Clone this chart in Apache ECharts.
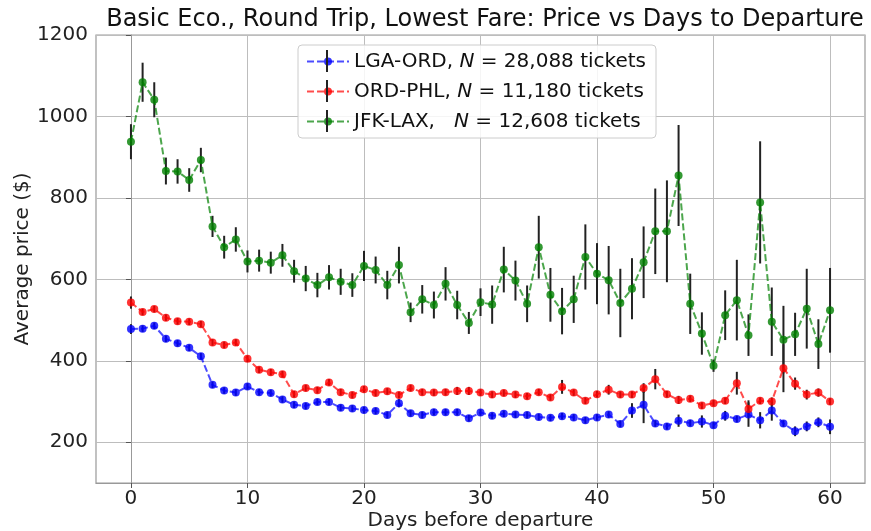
<!DOCTYPE html>
<html>
<head>
<meta charset="utf-8">
<script src="https://cdn.jsdelivr.net/npm/echarts@6/dist/echarts.min.js"></script>
<style>
    html, body { margin: 0; padding: 0; background: #fff; }
    #chart { width: 871px; height: 531px; }
</style>
</head>
<body>
<div id="chart"></div>
<script>
let days = [0, 1, 2, 3, 4, 5, 6, 7, 8, 9, 10, 11, 12, 13, 14, 15, 16, 17, 18, 19, 20,
    21, 22, 23, 24, 25, 26, 27, 28, 29, 30, 31, 32, 33, 34, 35, 36, 37, 38, 39, 40,
    41, 42, 43, 44, 45, 46, 47, 48, 49, 50, 51, 52, 53, 54, 55, 56, 57, 58, 59, 60];

let lgaOrd = [478, 479, 486, 454, 443, 432, 411, 341, 327, 322, 337, 323, 321, 305, 292, 289, 299, 299, 285, 283, 279,
    277, 267, 296, 271, 267, 274, 274, 274, 259, 273, 265, 270, 268, 267, 262, 260, 264, 261, 254, 261,
    268, 245, 278, 292, 246, 239, 253, 247, 251, 242, 265, 257, 268, 254, 278, 246, 227, 239, 249, 238];
let lgaOrdErr = [12, 8, 8, 8, 8, 8, 8, 8, 8, 8, 8, 8, 8, 8, 8, 8, 8, 8, 8, 8, 8,
    8, 8, 10, 8, 8, 8, 8, 8, 8, 8, 8, 8, 8, 8, 8, 8, 8, 8, 8, 8,
    8, 8, 18, 45, 8, 8, 15, 8, 15, 8, 12, 8, 30, 20, 25, 8, 12, 12, 12, 18];

let ordPhl = [543, 520, 527, 506, 497, 496, 490, 445, 439, 445, 405, 378, 372, 367, 318, 333, 328, 347, 323, 316, 330,
    321, 325, 316, 333, 323, 322, 323, 326, 326, 322, 317, 321, 317, 313, 323, 310, 336, 322, 302, 318,
    329, 317, 317, 333, 355, 318, 304, 307, 290, 296, 302, 345, 282, 302, 300, 382, 344, 317, 322, 300];
let ordPhlErr = [15, 8, 8, 8, 8, 8, 8, 8, 8, 8, 8, 8, 8, 8, 8, 8, 8, 8, 8, 8, 8,
    8, 8, 8, 8, 8, 8, 8, 10, 10, 8, 8, 8, 8, 8, 8, 8, 17, 8, 8, 8,
    12, 8, 8, 12, 25, 8, 10, 8, 8, 8, 8, 28, 21, 8, 10, 59, 15, 12, 10, 8];

let jfkLax = [938, 1084, 1041, 866, 865, 844, 893, 730, 679, 698, 644, 646, 641, 659, 620, 602, 586, 605, 594, 586, 633,
    623, 586, 635, 519, 551, 537, 589, 537, 493, 544, 538, 624, 597, 540, 679, 562, 522, 551, 655, 614,
    598, 542, 577, 642, 718, 718, 855, 540, 467, 388, 512, 549, 463, 789, 496, 452, 465, 528, 441, 524];
let jfkLaxErr = [43, 48, 43, 33, 30, 29, 30, 26, 28, 30, 27, 27, 27, 28, 28, 31, 30, 30, 32, 29, 37,
    33, 35, 45, 24, 35, 33, 41, 35, 27, 34, 47, 56, 49, 45, 77, 66, 57, 58, 80, 75,
    84, 84, 75, 88, 105, 125, 124, 74, 52, 15, 61, 99, 51, 150, 84, 83, 53, 98, 61, 104];

let xTicks = [0, 10, 20, 30, 40, 50, 60];
let yTicks = [200, 400, 600, 800, 1000, 1200];

let routes = ['LGA-ORD', 'ORD-PHL', 'JFK-LAX'];
let counts = ['28,088', '11,180', '12,608'];
let colors = ['#0000ff', '#ff0000', '#008000'];
// ----------------------------------------------------
let chart = echarts.init(document.getElementById('chart'));
let fontFamily = 'DejaVu Sans';

function pairs(vals) {
    return days.map((d, i) => [d, vals[i]]);
}
function bars(vals, errs) {
    return days.map((d, i) => [d, vals[i] - errs[i], vals[i] + errs[i]]);
}
function errorSeries(name, vals, errs) {
    return {
        name: name,
        type: 'custom',
        z: 1,
        silent: true,
        data: bars(vals, errs),
        encode: { x: 0, y: [1, 2] },
        renderItem: function (params, api) {
            let p1 = api.coord([api.value(0), api.value(1)]);
            let p2 = api.coord([api.value(0), api.value(2)]);
            return {
                type: 'line',
                shape: { x1: p1[0], y1: p1[1], x2: p2[0], y2: p2[1] },
                style: { stroke: '#222', lineWidth: 2 }
            };
        }
    };
}
function lineSeries(idx, vals) {
    return {
        name: routes[idx],
        type: 'line',
        z: 3,
        data: pairs(vals),
        symbol: 'circle',
        symbolSize: 8,
        color: colors[idx],
        itemStyle: { color: colors[idx], opacity: 0.8 },
        lineStyle: { color: colors[idx], width: 2, type: [7, 3], opacity: 0.7 },
        animation: false
    };
}

let axisText = { color: '#222', fontSize: 20, fontFamily: fontFamily };

let option = {
    animation: false,
    title: {
        text: 'Basic Eco., Round Trip, Lowest Fare: Price vs Days to Departure',
        left: 480,
        textAlign: 'center',
        top: 3,
        textStyle: { color: '#111', fontSize: 24, fontWeight: 'normal', fontFamily: fontFamily }
    },
    grid: {
        left: 96, right: 6, top: 35, bottom: 48,
        outerBoundsMode: 'none',
        show: true, borderColor: '#999', borderWidth: 1.2
    },
    legend: {
        orient: 'vertical',
        left: 298,
        top: 45,
        padding: [6, 10, 6, 8],
        itemWidth: 42,
        itemHeight: 10,
        itemGap: 9,
        backgroundColor: 'rgba(255,255,255,0.85)',
        borderColor: '#ccc',
        borderWidth: 1,
        borderRadius: 4,
        data: routes,
        formatter: function (name) {
            let i = routes.indexOf(name);
            let sep = i === 2 ? ',   ' : ', ';
            return name + sep + '{i|N} = ' + counts[i] + ' tickets';
        },
        textStyle: {
            color: '#111', fontSize: 20, fontFamily: fontFamily, lineHeight: 21,
            rich: {
                i: { fontStyle: 'italic', fontSize: 20, fontFamily: fontFamily, color: '#111' }
            }
        }
    },
    xAxis: {
        type: 'value',
        min: -3,
        max: 63,
        name: 'Days before departure',
        nameLocation: 'middle',
        nameGap: 28,
        nameMoveOverlap: false,
        nameTextStyle: axisText,
        axisLine: { show: true, lineStyle: { color: '#999' } },
        axisTick: { show: true, length: 5, lineStyle: { color: '#555' }, customValues: xTicks },
        axisLabel: Object.assign({ customValues: xTicks, margin: 6 }, axisText),
        splitLine: { show: true, lineStyle: { color: '#bdbdbd', width: 1 } }
    },
    yAxis: {
        type: 'value',
        min: 100,
        max: 1200,
        name: 'Average price ($)',
        nameLocation: 'middle',
        nameGap: 63,
        nameMoveOverlap: false,
        nameTextStyle: axisText,
        axisLine: { show: true, lineStyle: { color: '#999' } },
        axisTick: { show: true, length: 5, lineStyle: { color: '#555' }, customValues: yTicks },
        axisLabel: Object.assign({ customValues: yTicks, margin: 8, formatter: v => String(v) }, axisText),
        splitLine: { show: true, lineStyle: { color: '#bdbdbd', width: 1 } }
    },
    series: [
        errorSeries('err-lga', lgaOrd, lgaOrdErr),
        errorSeries('err-ord', ordPhl, ordPhlErr),
        errorSeries('err-jfk', jfkLax, jfkLaxErr),
        lineSeries(0, lgaOrd),
        lineSeries(1, ordPhl),
        lineSeries(2, jfkLax)
    ]
};

chart.setOption(option);

// vertical error-bar glyphs in the legend keys
let legendBars = [];
for (let i = 0; i < routes.length; i++) {
    legendBars.push({
        type: 'line',
        z: 100,
        shape: { x1: 327, y1: 50 + i * 30, x2: 327, y2: 72 + i * 30 },
        style: { stroke: '#222', lineWidth: 2 }
    });
}
chart.setOption({ graphic: legendBars });
</script>
</body>
</html>
